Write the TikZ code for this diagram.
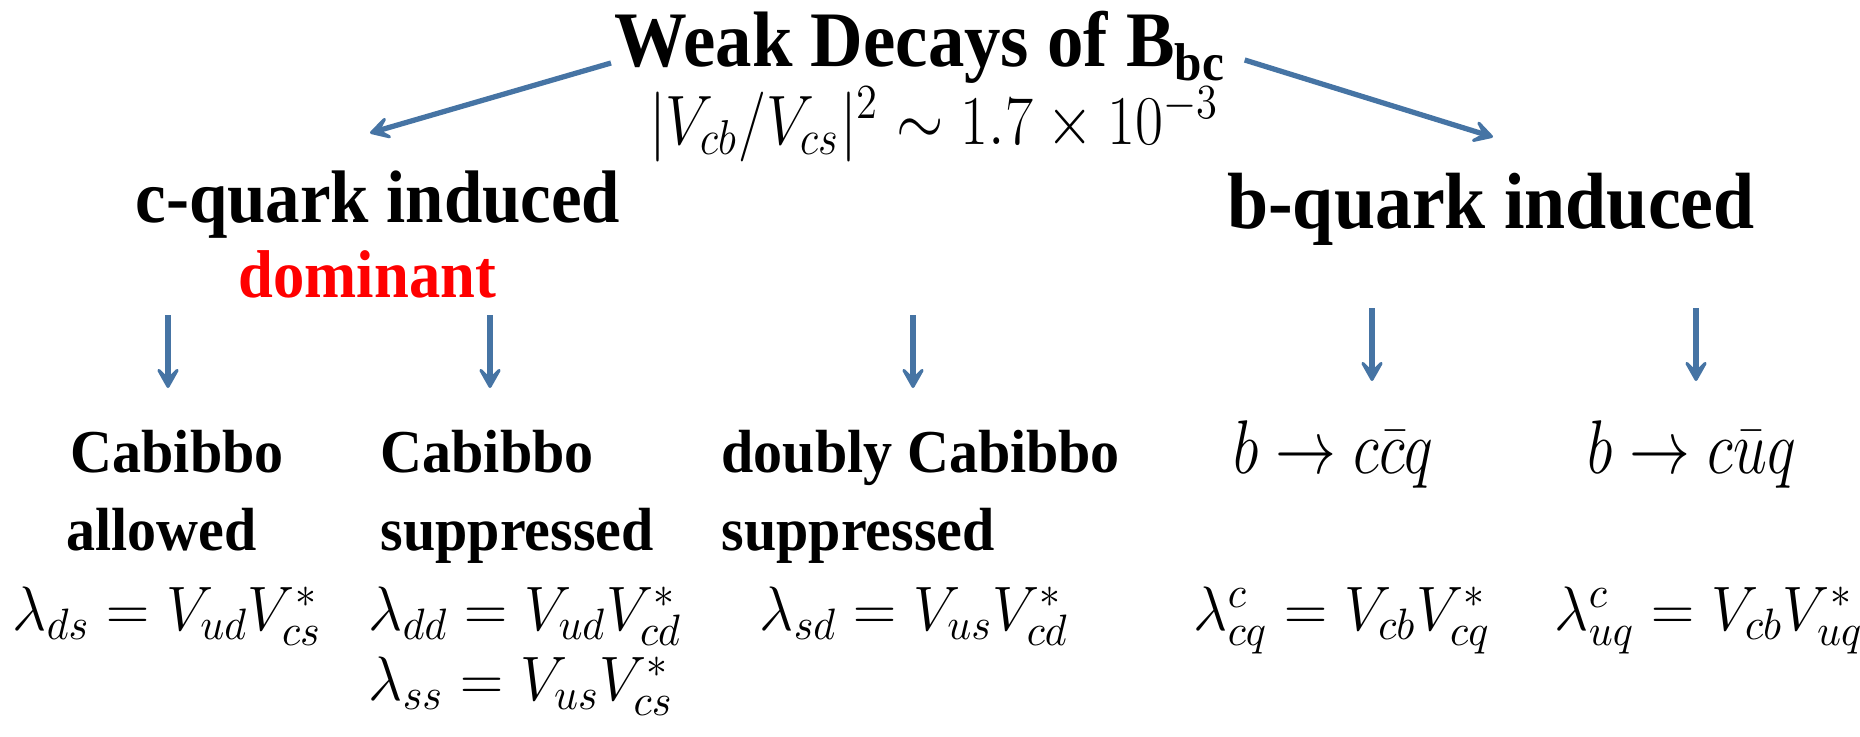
\RequirePackage{fix-cm}
\documentclass[tikz,border=0pt]{standalone}
\usepackage{fontspec}
\setmainfont{Liberation Serif}
\usetikzlibrary{arrows.meta}
\definecolor{arrblue}{RGB}{70,116,164}
\definecolor{domred}{RGB}{255,0,0}
\begin{document}
\begin{tikzpicture}[x=0.01cm,y=-0.01cm,
    txt/.style={inner sep=0pt,anchor=base west},
    head/.style={txt,font=\fontsize{19.6}{24}\selectfont\bfseries,yscale=1.08},
    kind/.style={txt,font=\fontsize{16.5}{20}\selectfont\bfseries,yscale=1.05},
    ckm/.style={txt,font=\fontsize{17}{20}\selectfont,yscale=1.05},
    proc/.style={txt,font=\fontsize{17.3}{21}\selectfont,yscale=1.25},
    arr/.style={draw=arrblue,line width=1.5pt,
        -{Stealth[length=8pt,width=9pt,inset=4.5pt,round]}}]
    \useasboundingbox(0,0)rectangle(1860,736);
    % title and the two branches
    \node[txt,font=\fontsize{20.7}{25}\selectfont\bfseries,yscale=1.08](title)at(614,66)
        {Weak Decays of B\raisebox{-3.7pt}{\fontsize{14}{14}\selectfont bc}};
    \node[txt,anchor=base,font=\fontsize{17.3}{20}\selectfont,yscale=1.15](ratio)at(934,144)
        {$|V_{cb}/V_{cs}|^2\sim1.7\times10^{-3}$};
    \node[head](cind)at(135,222){c-quark induced};
    \node[head,anchor=base,font=\fontsize{21}{25}\selectfont\bfseries](bind)at(1491,228){b-quark induced};
    \node[txt,font=\fontsize{17.8}{21}\selectfont\bfseries,text=domred,yscale=1.08](dom)at(238,297){dominant};
    \coordinate(cl)at(370,133);
    \coordinate(bl)at(1493,137);
    \draw[arr]([shift={(-3,-3)}]title.base west)--(cl);
    \draw[arr]([shift={(20,-6)}]title.base east)--(bl);
    % down arrows
    \foreach \n/\x/\t/\b in {1/168/315/388,2/490/315/388,3/913/315/388,
        4/1372/308/381,5/1696/308/381}{
        \coordinate(u\n)at(\x,\t);
        \coordinate(v\n)at(\x,\b);
        \draw[arr](u\n)--(v\n);
    }
    % the five kinds of decay
    \node[kind](ca1)at(70,472){Cabibbo};
    \node[kind](ca2)at(66,550){allowed};
    \node[kind](cs1)at(380,472){Cabibbo};
    \node[kind](cs2)at(380,550){suppressed};
    \node[kind](dc1)at(721,472){doubly Cabibbo};
    \node[kind](dc2)at(721,550){suppressed};
    \node[proc](bcc)at(1233,473){$b\to c\bar cq$};
    \node[proc](bcu)at(1587,473){$b\to c\bar uq$};
    % CKM factors
    \node[ckm](lds)at(12,630){$\lambda_{ds}=V_{ud}V^*_{cs}$};
    \node[ckm](ldd)at(368,630){$\lambda_{dd}=V_{ud}V^*_{cd}$};
    \node[ckm](lss)at(368,700){$\lambda_{ss}=V_{us}V^*_{cs}$};
    \node[ckm](lsd)at(759,630){$\lambda_{sd}=V_{us}V^*_{cd}$};
    \node[ckm](lcq)at(1193,630){$\lambda^c_{cq}=V_{cb}V^*_{cq}$};
    \node[ckm](luq)at(1554,630){$\lambda^c_{uq}=V_{cb}V^*_{uq}$};
\end{tikzpicture}
\end{document}
